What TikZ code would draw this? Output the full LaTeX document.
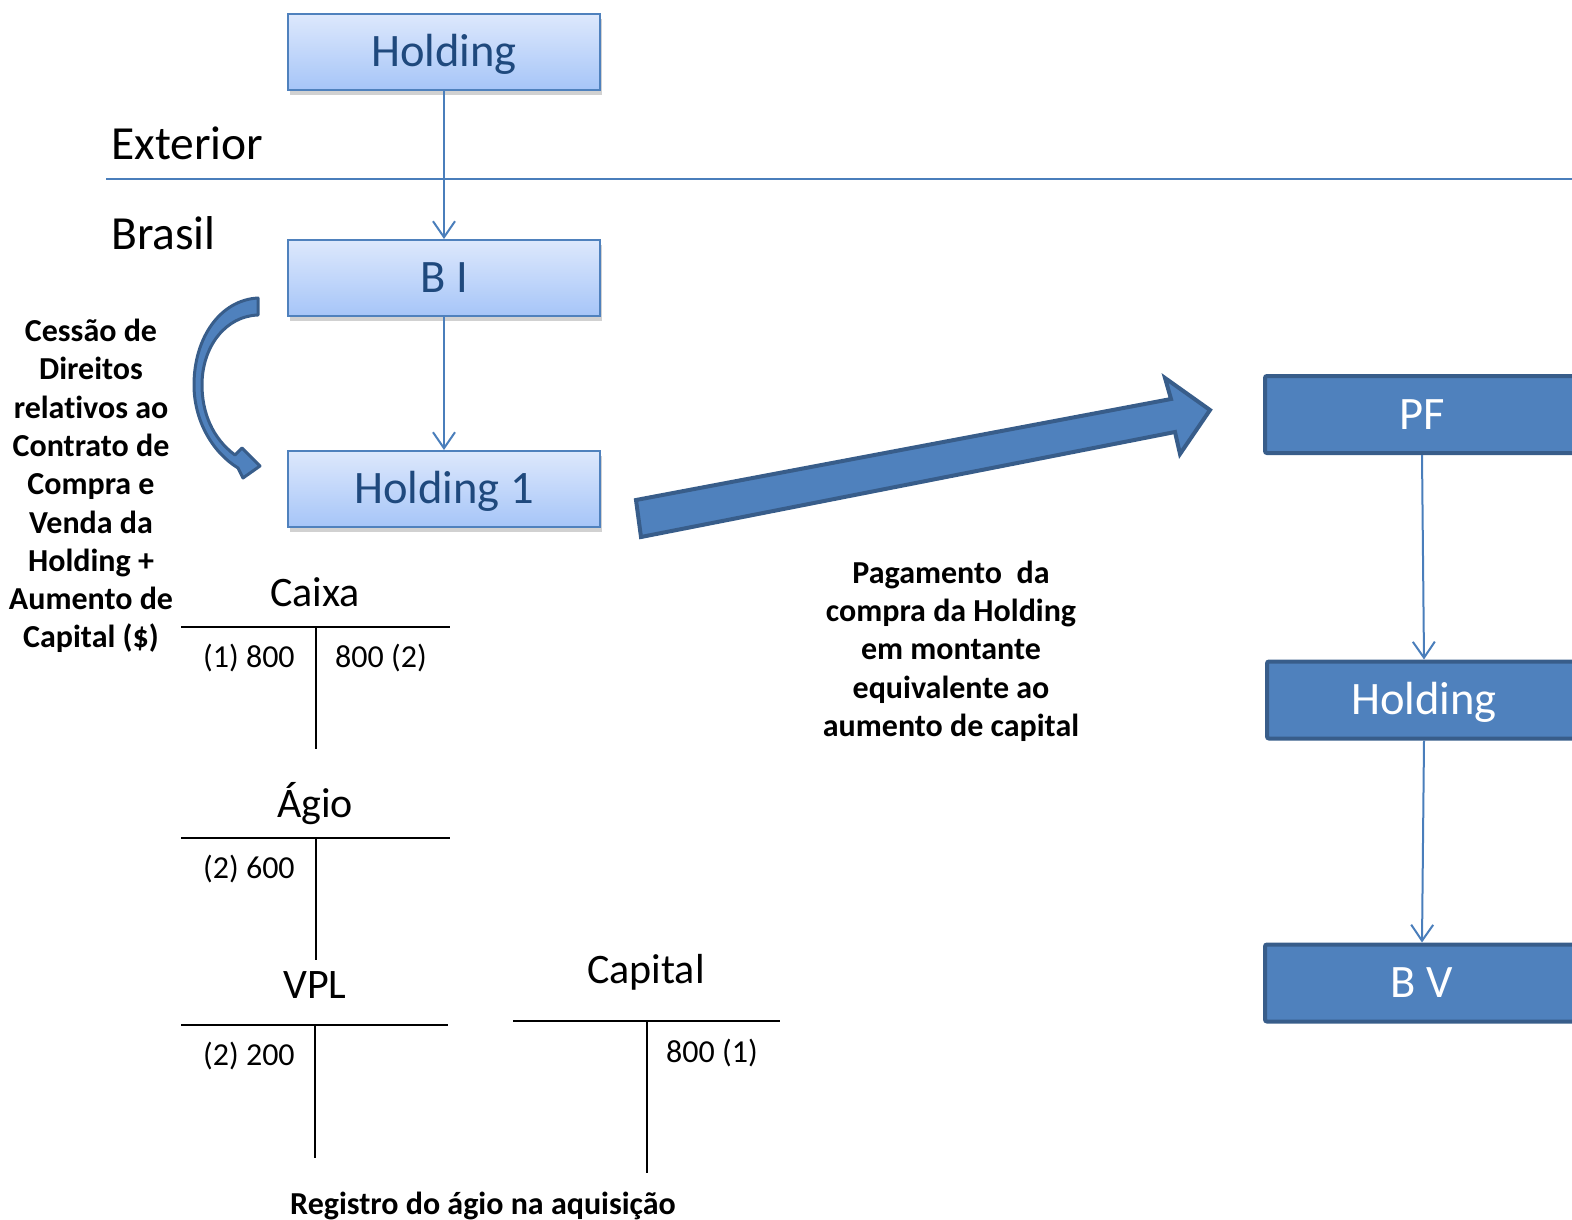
\documentclass[tikz,border=0pt]{standalone}
\usepackage{fontspec}
\setmainfont{Carlito}[Ligatures=NoCommon]
\usetikzlibrary{arrows.meta,shadows}

\definecolor{lineblue}{HTML}{4A7EBB}
\definecolor{boxtop}{HTML}{DDE8FC}
\definecolor{boxbot}{HTML}{A6C5F8}
\definecolor{boxedge}{HTML}{4F81BD}
\definecolor{boxtext}{HTML}{1F497D}
\definecolor{solidfill}{HTML}{4F81BD}
\definecolor{solidedge}{HTML}{385D8A}

\tikzset{
  lightbox/.style={draw=boxedge, line width=2pt, top color=boxtop, bottom color=boxbot,
    minimum width=312pt, minimum height=76pt, text=boxtext,
    font=\fontsize{46.5}{55}\selectfont, text height=29pt, text depth=0pt, inner sep=0pt,
    drop shadow={shadow xshift=2pt, shadow yshift=-5pt, opacity=0.18, fill=black}},
  darkbox/.style={draw=solidedge, line width=4pt, fill=solidfill, rounded corners=2pt,
    minimum width=314pt, minimum height=77pt, text=white,
    font=\fontsize{46.5}{55}\selectfont, text height=29pt, text depth=0pt, inner sep=0pt},
  flow/.style={draw=lineblue, line width=2pt,
    -{Straight Barb[length=16pt,width=22pt,line width=2pt]}},
  tline/.style={draw=black, line width=2.5pt},
  ttitle/.style={font=\fontsize{42}{50}\selectfont, anchor=base, inner sep=0pt},
  tentry/.style={font=\fontsize{32}{38}\selectfont, anchor=base west, inner sep=0pt},
  note/.style={font=\bfseries\fontsize{32}{38.3}\selectfont, align=center, inner sep=0pt},
  region/.style={font=\fontsize{47.5}{56}\selectfont, anchor=base west, inner sep=0pt},
  blockarrow/.style={fill=solidfill, draw=solidedge, line width=4pt, line join=miter}
}

\begin{document}
\begin{tikzpicture}[x=1pt,y=-1pt]
\useasboundingbox (0,0) rectangle (1572,1219);
\clip (0,0) rectangle (1572,1219);

% border between the two countries
\coordinate (sepL) at (106,179);
\coordinate (sepR) at (1572,179);
\draw[lineblue, line width=2pt] (sepL) -- (sepR);
\node[region] (ext) at (111,159) {Exterior};
\node[region] (bra) at (111,249) {Brasil};

% left chain
\node[lightbox] (hold) at (444,52) {Holding};
\node[lightbox] (bi) at (444,278) {B I};
\node[lightbox] (h1) at (444,489) {Holding 1};
\draw[flow] (hold.south) -- (bi.north);
\draw[flow] (bi.south) -- (h1.north);

% right chain
\node[darkbox] (pf) at (1422,414.5) {PF};
\node[darkbox] (hbr) at (1424,700) {Holding};
\node[darkbox] (bv) at (1422,983) {B V};
\draw[flow] (pf.south) -- (hbr.north);
\draw[flow] (hbr.south) -- (bv.north);

% curved transfer arrow
\draw[blockarrow, line width=3pt, line join=round]
  (258,298) .. controls (220,300) and (194,338) .. (194,385)
  .. controls (194,420) and (212,452) .. (238,468)
  -- (243,478) -- (260,466) -- (242,448) -- (235,455)
  .. controls (212,438) and (202,412) .. (202,385)
  .. controls (202,346) and (226,316) .. (258,315) -- cycle;

% payment arrow
\draw[blockarrow] (636,500) -- (1171,399) -- (1165,378) -- (1210,410)
  -- (1180,454) -- (1175,432) -- (641,537) -- cycle;

% notes
\node[note] (cessao) at (91,486) {Cessão de\\Direitos\\relativos ao\\Contrato de\\Compra e\\Venda da\\Holding +\\Aumento de\\Capital (\$)};
\node[note] (pag) at (951,651) {Pagamento\ \ da\\compra da Holding\\em montante\\equivalente ao\\aumento de capital};
\node[note, anchor=base] (reg) at (483,1214) {Registro do ágio na aquisição};

% T-account: Caixa
\node[ttitle] (caixa) at (315,606) {Caixa};
\coordinate (caixaL) at (181,627);
\coordinate (caixaR) at (450,627);
\coordinate (caixaT) at (316,627);
\coordinate (caixaB) at (316,749);
\draw[tline] (caixaL) -- (caixaR);
\draw[tline] (caixaT) -- (caixaB);
\node[tentry] (caixaD) at (203,667) {(1) 800};
\node[tentry] (caixaC) at (335,667) {800 (2)};

% T-account: Ágio
\node[ttitle] (agio) at (315,817) {Ágio};
\coordinate (agioL) at (181,838);
\coordinate (agioR) at (450,838);
\coordinate (agioT) at (316,838);
\coordinate (agioB) at (316,960);
\draw[tline] (agioL) -- (agioR);
\draw[tline] (agioT) -- (agioB);
\node[tentry] (agioD) at (203,878) {(2) 600};

% T-account: VPL
\node[ttitle] (vpl) at (315,998) {VPL};
\coordinate (vplL) at (181,1025);
\coordinate (vplR) at (448,1025);
\coordinate (vplT) at (315,1025);
\coordinate (vplB) at (315,1158);
\draw[tline] (vplL) -- (vplR);
\draw[tline] (vplT) -- (vplB);
\node[tentry] (vplD) at (203,1065) {(2) 200};

% T-account: Capital
\node[ttitle] (cap) at (646,983) {Capital};
\coordinate (capL) at (513,1021);
\coordinate (capR) at (780,1021);
\coordinate (capT) at (647,1021);
\coordinate (capB) at (647,1173);
\draw[tline] (capL) -- (capR);
\draw[tline] (capT) -- (capB);
\node[tentry] (capC) at (666,1062) {800 (1)};
\end{tikzpicture}
\end{document}
